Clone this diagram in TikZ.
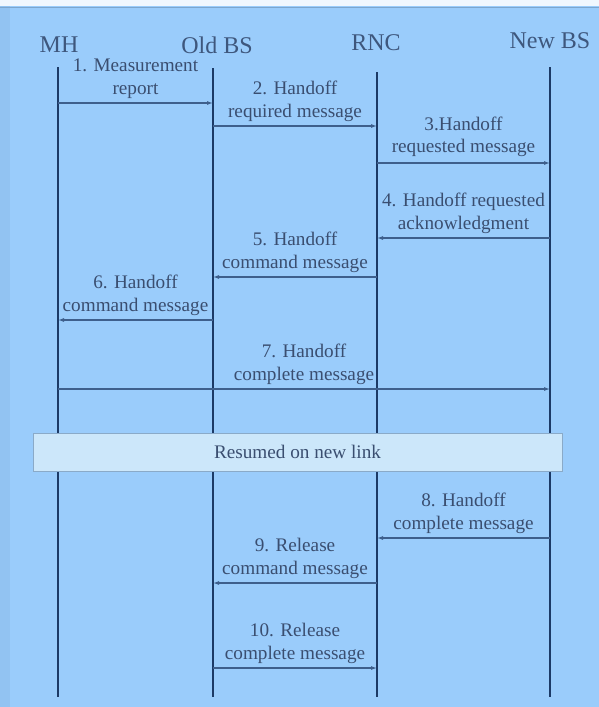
\documentclass[tikz,border=0pt]{standalone}
\usepackage{fontspec}
\setmainfont{Liberation Serif}
\usetikzlibrary{arrows.meta}
\definecolor{bgblue}{HTML}{9ACCFB}
\definecolor{edgeblue}{HTML}{92C3F2}
\definecolor{lifecol}{HTML}{1C3A66}
\definecolor{msgcol}{HTML}{3E5F8C}
\definecolor{txtcol}{HTML}{3A4E70}
\definecolor{boxfill}{HTML}{CCE7FA}
\definecolor{boxedge}{HTML}{8AAAC8}
\begin{document}
\begin{tikzpicture}[x=0.75pt,y=-0.75pt,
  head/.style={font=\fontsize{18}{20}\selectfont, text=lifecol!85!white, inner sep=0pt},
  lifeline/.style={draw=lifecol, line width=1.6pt},
  msg/.style={draw=msgcol, line width=0.8pt, -{Latex[length=4.5pt,width=3pt]}},
  lbl/.style={font=\fontsize{14.4}{17.2}\selectfont, text=txtcol, align=center, inner sep=0pt, anchor=south}]
\useasboundingbox (0,0) rectangle (599,707);
\fill[bgblue] (0,0) rectangle (599,707);
\fill[white!85!bgblue] (0,0) rectangle (599,6);
\fill[edgeblue] (0,6) rectangle (10,707);
\draw[edgeblue!85!black, line width=0.5pt] (0,7) -- (599,7);
% heads
\node[head] (MH)  at (59,45) {MH};
\node[head] (OBS) at (217,45) {Old BS};
\node[head] (RNC) at (376,43) {RNC};
\node[head] (NBS) at (550,41) {New BS};
% lifeline ends
\coordinate (mhT) at (58,67);  \coordinate (mhB) at (58,697);
\coordinate (obT) at (213,68); \coordinate (obB) at (213,697);
\coordinate (rnT) at (377,72); \coordinate (rnB) at (377,697);
\coordinate (nbT) at (550,67); \coordinate (nbB) at (550,697);
\draw[lifeline] (mhT) -- (mhB);
\draw[lifeline] (obT) -- (obB);
\draw[lifeline] (rnT) -- (rnB);
\draw[lifeline] (nbT) -- (nbB);
% message rows
\coordinate (r1) at (0,103);
\coordinate (r2) at (0,126);
\coordinate (r3) at (0,163);
\coordinate (r4) at (0,238);
\coordinate (r5) at (0,277);
\coordinate (r6) at (0,320);
\coordinate (r7) at (0,389);
\coordinate (r8) at (0,538);
\coordinate (r9) at (0,583);
\coordinate (r10) at (0,668);
\draw[msg] (mhT |- r1) -- node[lbl, above=3pt] {1. Measurement\\report} (obT |- r1);
\draw[msg] (obT |- r2) -- node[lbl, above=3pt] {2. Handoff\\required message} (rnT |- r2);
\draw[msg] (rnT |- r3) -- node[lbl, above=4pt] {3.Handoff\\requested message} (nbT |- r3);
\draw[msg] (nbT |- r4) -- node[lbl, above=3pt] {4. Handoff requested\\acknowledgment} (rnT |- r4);
\draw[msg] (rnT |- r5) -- node[lbl, above=3pt] {5. Handoff\\command message} (obT |- r5);
\draw[msg] (obT |- r6) -- node[lbl, above=3pt] {6. Handoff\\command message} (mhT |- r6);
\draw[msg] (mhT |- r7) -- node[lbl, above=3pt] {7. Handoff\\complete message} (nbT |- r7);
% resumed box
\node[fill=boxfill, draw=boxedge, line width=0.6pt, minimum width=529*0.75pt, minimum height=38*0.75pt,
      inner sep=0pt, font=\fontsize{14.4}{16}\selectfont, text=txtcol] (RES) at (297.5,452) {Resumed on new link};
\draw[msg] (nbT |- r8) -- node[lbl, above=3pt] {8. Handoff\\complete message} (rnT |- r8);
\draw[msg] (rnT |- r9) -- node[lbl, above=3pt] {9. Release\\command message} (obT |- r9);
\draw[msg] (obT |- r10) -- node[lbl, above=3pt] {10. Release\\complete message} (rnT |- r10);
\end{tikzpicture}
\end{document}
